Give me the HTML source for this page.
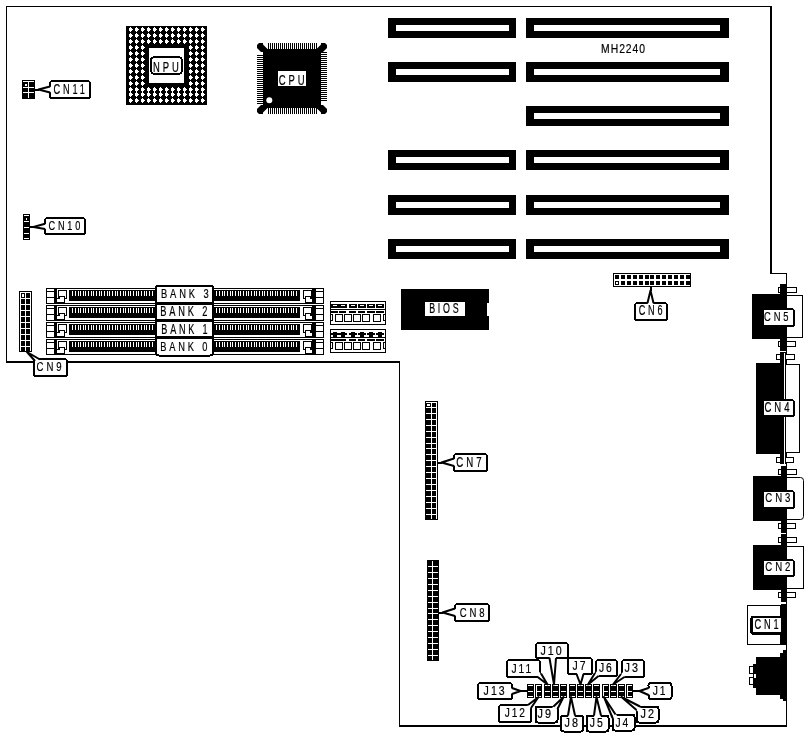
<!DOCTYPE html>
<html><head><meta charset="utf-8"><style>
html,body{margin:0;padding:0;background:#fff;width:807px;height:739px;overflow:hidden}
svg{display:block;will-change:transform}
text{font-family:"Liberation Sans",sans-serif;fill:#000;stroke:#000;stroke-width:0.2px}
</style></head><body>
<svg width="807" height="739" viewBox="0 0 807 739" shape-rendering="crispEdges">
<rect width="807" height="739" fill="#fff"/>
<rect x="6" y="6" width="766" height="1" fill="#000"/>
<rect x="6" y="6" width="1" height="357" fill="#000"/>
<rect x="770" y="6" width="2" height="268" fill="#000"/>
<rect x="770" y="273" width="17" height="1" fill="#000"/>
<rect x="786" y="273" width="1" height="454" fill="#000"/>
<rect x="399" y="725" width="388" height="2" fill="#000"/>
<rect x="399" y="361" width="1" height="366" fill="#000"/>
<rect x="6" y="361" width="394" height="2" fill="#000"/>
<rect x="388" y="18" width="128" height="20" fill="#000"/>
<rect x="396" y="25" width="113" height="6" fill="#fff"/>
<rect x="526" y="18" width="203" height="20" fill="#000"/>
<rect x="534" y="25" width="186" height="6" fill="#fff"/>
<rect x="388" y="62" width="128" height="20" fill="#000"/>
<rect x="396" y="69" width="113" height="6" fill="#fff"/>
<rect x="526" y="62" width="203" height="20" fill="#000"/>
<rect x="534" y="69" width="186" height="6" fill="#fff"/>
<rect x="526" y="106" width="203" height="20" fill="#000"/>
<rect x="534" y="113" width="186" height="6" fill="#fff"/>
<rect x="388" y="150" width="128" height="20" fill="#000"/>
<rect x="396" y="157" width="113" height="6" fill="#fff"/>
<rect x="526" y="150" width="203" height="20" fill="#000"/>
<rect x="534" y="157" width="186" height="6" fill="#fff"/>
<rect x="388" y="195" width="128" height="20" fill="#000"/>
<rect x="396" y="202" width="113" height="6" fill="#fff"/>
<rect x="526" y="195" width="203" height="20" fill="#000"/>
<rect x="534" y="202" width="186" height="6" fill="#fff"/>
<rect x="388" y="239" width="128" height="20" fill="#000"/>
<rect x="396" y="246" width="113" height="6" fill="#fff"/>
<rect x="526" y="239" width="203" height="20" fill="#000"/>
<rect x="534" y="246" width="186" height="6" fill="#fff"/>
<text transform="matrix(0.7981,0,0,0.9644,601.10,52.68)" font-size="13" letter-spacing="1.2">MH2240</text>
<rect x="126" y="26" width="81" height="79" fill="#000"/>
<rect x="129" y="28" width="3" height="3" fill="#fff"/>
<rect x="130" y="27" width="1" height="5" fill="#fff"/>
<rect x="132" y="29" width="1" height="1" fill="#fff"/>
<rect x="135" y="28" width="3" height="3" fill="#fff"/>
<rect x="136" y="27" width="1" height="5" fill="#fff"/>
<rect x="138" y="29" width="1" height="1" fill="#fff"/>
<rect x="141" y="28" width="3" height="3" fill="#fff"/>
<rect x="142" y="27" width="1" height="5" fill="#fff"/>
<rect x="144" y="29" width="1" height="1" fill="#fff"/>
<rect x="147" y="28" width="3" height="3" fill="#fff"/>
<rect x="148" y="27" width="1" height="5" fill="#fff"/>
<rect x="150" y="29" width="1" height="1" fill="#fff"/>
<rect x="153" y="28" width="3" height="3" fill="#fff"/>
<rect x="154" y="27" width="1" height="5" fill="#fff"/>
<rect x="156" y="29" width="1" height="1" fill="#fff"/>
<rect x="159" y="28" width="3" height="3" fill="#fff"/>
<rect x="160" y="27" width="1" height="5" fill="#fff"/>
<rect x="162" y="29" width="1" height="1" fill="#fff"/>
<rect x="165" y="28" width="3" height="3" fill="#fff"/>
<rect x="166" y="27" width="1" height="5" fill="#fff"/>
<rect x="168" y="29" width="1" height="1" fill="#fff"/>
<rect x="171" y="28" width="3" height="3" fill="#fff"/>
<rect x="172" y="27" width="1" height="5" fill="#fff"/>
<rect x="174" y="29" width="1" height="1" fill="#fff"/>
<rect x="177" y="28" width="3" height="3" fill="#fff"/>
<rect x="178" y="27" width="1" height="5" fill="#fff"/>
<rect x="180" y="29" width="1" height="1" fill="#fff"/>
<rect x="183" y="28" width="3" height="3" fill="#fff"/>
<rect x="184" y="27" width="1" height="5" fill="#fff"/>
<rect x="186" y="29" width="1" height="1" fill="#fff"/>
<rect x="189" y="28" width="3" height="3" fill="#fff"/>
<rect x="190" y="27" width="1" height="5" fill="#fff"/>
<rect x="192" y="29" width="1" height="1" fill="#fff"/>
<rect x="195" y="28" width="3" height="3" fill="#fff"/>
<rect x="196" y="27" width="1" height="5" fill="#fff"/>
<rect x="198" y="29" width="1" height="1" fill="#fff"/>
<rect x="201" y="28" width="3" height="3" fill="#fff"/>
<rect x="202" y="27" width="1" height="5" fill="#fff"/>
<rect x="204" y="29" width="1" height="1" fill="#fff"/>
<rect x="129" y="34" width="3" height="3" fill="#fff"/>
<rect x="130" y="33" width="1" height="5" fill="#fff"/>
<rect x="132" y="35" width="1" height="1" fill="#fff"/>
<rect x="135" y="34" width="3" height="3" fill="#fff"/>
<rect x="136" y="33" width="1" height="5" fill="#fff"/>
<rect x="138" y="35" width="1" height="1" fill="#fff"/>
<rect x="141" y="34" width="3" height="3" fill="#fff"/>
<rect x="142" y="33" width="1" height="5" fill="#fff"/>
<rect x="144" y="35" width="1" height="1" fill="#fff"/>
<rect x="147" y="34" width="3" height="3" fill="#fff"/>
<rect x="148" y="33" width="1" height="5" fill="#fff"/>
<rect x="150" y="35" width="1" height="1" fill="#fff"/>
<rect x="153" y="34" width="3" height="3" fill="#fff"/>
<rect x="154" y="33" width="1" height="5" fill="#fff"/>
<rect x="156" y="35" width="1" height="1" fill="#fff"/>
<rect x="159" y="34" width="3" height="3" fill="#fff"/>
<rect x="160" y="33" width="1" height="5" fill="#fff"/>
<rect x="162" y="35" width="1" height="1" fill="#fff"/>
<rect x="165" y="34" width="3" height="3" fill="#fff"/>
<rect x="166" y="33" width="1" height="5" fill="#fff"/>
<rect x="168" y="35" width="1" height="1" fill="#fff"/>
<rect x="171" y="34" width="3" height="3" fill="#fff"/>
<rect x="172" y="33" width="1" height="5" fill="#fff"/>
<rect x="174" y="35" width="1" height="1" fill="#fff"/>
<rect x="177" y="34" width="3" height="3" fill="#fff"/>
<rect x="178" y="33" width="1" height="5" fill="#fff"/>
<rect x="180" y="35" width="1" height="1" fill="#fff"/>
<rect x="183" y="34" width="3" height="3" fill="#fff"/>
<rect x="184" y="33" width="1" height="5" fill="#fff"/>
<rect x="186" y="35" width="1" height="1" fill="#fff"/>
<rect x="189" y="34" width="3" height="3" fill="#fff"/>
<rect x="190" y="33" width="1" height="5" fill="#fff"/>
<rect x="192" y="35" width="1" height="1" fill="#fff"/>
<rect x="195" y="34" width="3" height="3" fill="#fff"/>
<rect x="196" y="33" width="1" height="5" fill="#fff"/>
<rect x="198" y="35" width="1" height="1" fill="#fff"/>
<rect x="201" y="34" width="3" height="3" fill="#fff"/>
<rect x="202" y="33" width="1" height="5" fill="#fff"/>
<rect x="204" y="35" width="1" height="1" fill="#fff"/>
<rect x="129" y="40" width="3" height="3" fill="#fff"/>
<rect x="130" y="39" width="1" height="5" fill="#fff"/>
<rect x="132" y="41" width="1" height="1" fill="#fff"/>
<rect x="135" y="40" width="3" height="3" fill="#fff"/>
<rect x="136" y="39" width="1" height="5" fill="#fff"/>
<rect x="138" y="41" width="1" height="1" fill="#fff"/>
<rect x="141" y="40" width="3" height="3" fill="#fff"/>
<rect x="142" y="39" width="1" height="5" fill="#fff"/>
<rect x="144" y="41" width="1" height="1" fill="#fff"/>
<rect x="147" y="40" width="3" height="3" fill="#fff"/>
<rect x="148" y="39" width="1" height="5" fill="#fff"/>
<rect x="150" y="41" width="1" height="1" fill="#fff"/>
<rect x="153" y="40" width="3" height="3" fill="#fff"/>
<rect x="154" y="39" width="1" height="5" fill="#fff"/>
<rect x="156" y="41" width="1" height="1" fill="#fff"/>
<rect x="159" y="40" width="3" height="3" fill="#fff"/>
<rect x="160" y="39" width="1" height="5" fill="#fff"/>
<rect x="162" y="41" width="1" height="1" fill="#fff"/>
<rect x="165" y="40" width="3" height="3" fill="#fff"/>
<rect x="166" y="39" width="1" height="5" fill="#fff"/>
<rect x="168" y="41" width="1" height="1" fill="#fff"/>
<rect x="171" y="40" width="3" height="3" fill="#fff"/>
<rect x="172" y="39" width="1" height="5" fill="#fff"/>
<rect x="174" y="41" width="1" height="1" fill="#fff"/>
<rect x="177" y="40" width="3" height="3" fill="#fff"/>
<rect x="178" y="39" width="1" height="5" fill="#fff"/>
<rect x="180" y="41" width="1" height="1" fill="#fff"/>
<rect x="183" y="40" width="3" height="3" fill="#fff"/>
<rect x="184" y="39" width="1" height="5" fill="#fff"/>
<rect x="186" y="41" width="1" height="1" fill="#fff"/>
<rect x="189" y="40" width="3" height="3" fill="#fff"/>
<rect x="190" y="39" width="1" height="5" fill="#fff"/>
<rect x="192" y="41" width="1" height="1" fill="#fff"/>
<rect x="195" y="40" width="3" height="3" fill="#fff"/>
<rect x="196" y="39" width="1" height="5" fill="#fff"/>
<rect x="198" y="41" width="1" height="1" fill="#fff"/>
<rect x="201" y="40" width="3" height="3" fill="#fff"/>
<rect x="202" y="39" width="1" height="5" fill="#fff"/>
<rect x="204" y="41" width="1" height="1" fill="#fff"/>
<rect x="129" y="46" width="3" height="3" fill="#fff"/>
<rect x="130" y="45" width="1" height="5" fill="#fff"/>
<rect x="132" y="47" width="1" height="1" fill="#fff"/>
<rect x="135" y="46" width="3" height="3" fill="#fff"/>
<rect x="136" y="45" width="1" height="5" fill="#fff"/>
<rect x="138" y="47" width="1" height="1" fill="#fff"/>
<rect x="141" y="46" width="3" height="3" fill="#fff"/>
<rect x="142" y="45" width="1" height="5" fill="#fff"/>
<rect x="144" y="47" width="1" height="1" fill="#fff"/>
<rect x="189" y="46" width="3" height="3" fill="#fff"/>
<rect x="190" y="45" width="1" height="5" fill="#fff"/>
<rect x="192" y="47" width="1" height="1" fill="#fff"/>
<rect x="195" y="46" width="3" height="3" fill="#fff"/>
<rect x="196" y="45" width="1" height="5" fill="#fff"/>
<rect x="198" y="47" width="1" height="1" fill="#fff"/>
<rect x="201" y="46" width="3" height="3" fill="#fff"/>
<rect x="202" y="45" width="1" height="5" fill="#fff"/>
<rect x="204" y="47" width="1" height="1" fill="#fff"/>
<rect x="129" y="52" width="3" height="3" fill="#fff"/>
<rect x="130" y="51" width="1" height="5" fill="#fff"/>
<rect x="132" y="53" width="1" height="1" fill="#fff"/>
<rect x="135" y="52" width="3" height="3" fill="#fff"/>
<rect x="136" y="51" width="1" height="5" fill="#fff"/>
<rect x="138" y="53" width="1" height="1" fill="#fff"/>
<rect x="141" y="52" width="3" height="3" fill="#fff"/>
<rect x="142" y="51" width="1" height="5" fill="#fff"/>
<rect x="144" y="53" width="1" height="1" fill="#fff"/>
<rect x="189" y="52" width="3" height="3" fill="#fff"/>
<rect x="190" y="51" width="1" height="5" fill="#fff"/>
<rect x="192" y="53" width="1" height="1" fill="#fff"/>
<rect x="195" y="52" width="3" height="3" fill="#fff"/>
<rect x="196" y="51" width="1" height="5" fill="#fff"/>
<rect x="198" y="53" width="1" height="1" fill="#fff"/>
<rect x="201" y="52" width="3" height="3" fill="#fff"/>
<rect x="202" y="51" width="1" height="5" fill="#fff"/>
<rect x="204" y="53" width="1" height="1" fill="#fff"/>
<rect x="129" y="58" width="3" height="3" fill="#fff"/>
<rect x="130" y="57" width="1" height="5" fill="#fff"/>
<rect x="132" y="59" width="1" height="1" fill="#fff"/>
<rect x="135" y="58" width="3" height="3" fill="#fff"/>
<rect x="136" y="57" width="1" height="5" fill="#fff"/>
<rect x="138" y="59" width="1" height="1" fill="#fff"/>
<rect x="141" y="58" width="3" height="3" fill="#fff"/>
<rect x="142" y="57" width="1" height="5" fill="#fff"/>
<rect x="144" y="59" width="1" height="1" fill="#fff"/>
<rect x="189" y="58" width="3" height="3" fill="#fff"/>
<rect x="190" y="57" width="1" height="5" fill="#fff"/>
<rect x="192" y="59" width="1" height="1" fill="#fff"/>
<rect x="195" y="58" width="3" height="3" fill="#fff"/>
<rect x="196" y="57" width="1" height="5" fill="#fff"/>
<rect x="198" y="59" width="1" height="1" fill="#fff"/>
<rect x="201" y="58" width="3" height="3" fill="#fff"/>
<rect x="202" y="57" width="1" height="5" fill="#fff"/>
<rect x="204" y="59" width="1" height="1" fill="#fff"/>
<rect x="129" y="64" width="3" height="3" fill="#fff"/>
<rect x="130" y="63" width="1" height="5" fill="#fff"/>
<rect x="132" y="65" width="1" height="1" fill="#fff"/>
<rect x="135" y="64" width="3" height="3" fill="#fff"/>
<rect x="136" y="63" width="1" height="5" fill="#fff"/>
<rect x="138" y="65" width="1" height="1" fill="#fff"/>
<rect x="141" y="64" width="3" height="3" fill="#fff"/>
<rect x="142" y="63" width="1" height="5" fill="#fff"/>
<rect x="144" y="65" width="1" height="1" fill="#fff"/>
<rect x="189" y="64" width="3" height="3" fill="#fff"/>
<rect x="190" y="63" width="1" height="5" fill="#fff"/>
<rect x="192" y="65" width="1" height="1" fill="#fff"/>
<rect x="195" y="64" width="3" height="3" fill="#fff"/>
<rect x="196" y="63" width="1" height="5" fill="#fff"/>
<rect x="198" y="65" width="1" height="1" fill="#fff"/>
<rect x="201" y="64" width="3" height="3" fill="#fff"/>
<rect x="202" y="63" width="1" height="5" fill="#fff"/>
<rect x="204" y="65" width="1" height="1" fill="#fff"/>
<rect x="129" y="70" width="3" height="3" fill="#fff"/>
<rect x="130" y="69" width="1" height="5" fill="#fff"/>
<rect x="132" y="71" width="1" height="1" fill="#fff"/>
<rect x="135" y="70" width="3" height="3" fill="#fff"/>
<rect x="136" y="69" width="1" height="5" fill="#fff"/>
<rect x="138" y="71" width="1" height="1" fill="#fff"/>
<rect x="141" y="70" width="3" height="3" fill="#fff"/>
<rect x="142" y="69" width="1" height="5" fill="#fff"/>
<rect x="144" y="71" width="1" height="1" fill="#fff"/>
<rect x="189" y="70" width="3" height="3" fill="#fff"/>
<rect x="190" y="69" width="1" height="5" fill="#fff"/>
<rect x="192" y="71" width="1" height="1" fill="#fff"/>
<rect x="195" y="70" width="3" height="3" fill="#fff"/>
<rect x="196" y="69" width="1" height="5" fill="#fff"/>
<rect x="198" y="71" width="1" height="1" fill="#fff"/>
<rect x="201" y="70" width="3" height="3" fill="#fff"/>
<rect x="202" y="69" width="1" height="5" fill="#fff"/>
<rect x="204" y="71" width="1" height="1" fill="#fff"/>
<rect x="129" y="76" width="3" height="3" fill="#fff"/>
<rect x="130" y="75" width="1" height="5" fill="#fff"/>
<rect x="132" y="77" width="1" height="1" fill="#fff"/>
<rect x="135" y="76" width="3" height="3" fill="#fff"/>
<rect x="136" y="75" width="1" height="5" fill="#fff"/>
<rect x="138" y="77" width="1" height="1" fill="#fff"/>
<rect x="141" y="76" width="3" height="3" fill="#fff"/>
<rect x="142" y="75" width="1" height="5" fill="#fff"/>
<rect x="144" y="77" width="1" height="1" fill="#fff"/>
<rect x="189" y="76" width="3" height="3" fill="#fff"/>
<rect x="190" y="75" width="1" height="5" fill="#fff"/>
<rect x="192" y="77" width="1" height="1" fill="#fff"/>
<rect x="195" y="76" width="3" height="3" fill="#fff"/>
<rect x="196" y="75" width="1" height="5" fill="#fff"/>
<rect x="198" y="77" width="1" height="1" fill="#fff"/>
<rect x="201" y="76" width="3" height="3" fill="#fff"/>
<rect x="202" y="75" width="1" height="5" fill="#fff"/>
<rect x="204" y="77" width="1" height="1" fill="#fff"/>
<rect x="129" y="82" width="3" height="3" fill="#fff"/>
<rect x="130" y="81" width="1" height="5" fill="#fff"/>
<rect x="132" y="83" width="1" height="1" fill="#fff"/>
<rect x="135" y="82" width="3" height="3" fill="#fff"/>
<rect x="136" y="81" width="1" height="5" fill="#fff"/>
<rect x="138" y="83" width="1" height="1" fill="#fff"/>
<rect x="141" y="82" width="3" height="3" fill="#fff"/>
<rect x="142" y="81" width="1" height="5" fill="#fff"/>
<rect x="144" y="83" width="1" height="1" fill="#fff"/>
<rect x="189" y="82" width="3" height="3" fill="#fff"/>
<rect x="190" y="81" width="1" height="5" fill="#fff"/>
<rect x="192" y="83" width="1" height="1" fill="#fff"/>
<rect x="195" y="82" width="3" height="3" fill="#fff"/>
<rect x="196" y="81" width="1" height="5" fill="#fff"/>
<rect x="198" y="83" width="1" height="1" fill="#fff"/>
<rect x="201" y="82" width="3" height="3" fill="#fff"/>
<rect x="202" y="81" width="1" height="5" fill="#fff"/>
<rect x="204" y="83" width="1" height="1" fill="#fff"/>
<rect x="129" y="88" width="3" height="3" fill="#fff"/>
<rect x="130" y="87" width="1" height="5" fill="#fff"/>
<rect x="132" y="89" width="1" height="1" fill="#fff"/>
<rect x="135" y="88" width="3" height="3" fill="#fff"/>
<rect x="136" y="87" width="1" height="5" fill="#fff"/>
<rect x="138" y="89" width="1" height="1" fill="#fff"/>
<rect x="141" y="88" width="3" height="3" fill="#fff"/>
<rect x="142" y="87" width="1" height="5" fill="#fff"/>
<rect x="144" y="89" width="1" height="1" fill="#fff"/>
<rect x="147" y="88" width="3" height="3" fill="#fff"/>
<rect x="148" y="87" width="1" height="5" fill="#fff"/>
<rect x="150" y="89" width="1" height="1" fill="#fff"/>
<rect x="153" y="88" width="3" height="3" fill="#fff"/>
<rect x="154" y="87" width="1" height="5" fill="#fff"/>
<rect x="156" y="89" width="1" height="1" fill="#fff"/>
<rect x="159" y="88" width="3" height="3" fill="#fff"/>
<rect x="160" y="87" width="1" height="5" fill="#fff"/>
<rect x="162" y="89" width="1" height="1" fill="#fff"/>
<rect x="165" y="88" width="3" height="3" fill="#fff"/>
<rect x="166" y="87" width="1" height="5" fill="#fff"/>
<rect x="168" y="89" width="1" height="1" fill="#fff"/>
<rect x="171" y="88" width="3" height="3" fill="#fff"/>
<rect x="172" y="87" width="1" height="5" fill="#fff"/>
<rect x="174" y="89" width="1" height="1" fill="#fff"/>
<rect x="177" y="88" width="3" height="3" fill="#fff"/>
<rect x="178" y="87" width="1" height="5" fill="#fff"/>
<rect x="180" y="89" width="1" height="1" fill="#fff"/>
<rect x="183" y="88" width="3" height="3" fill="#fff"/>
<rect x="184" y="87" width="1" height="5" fill="#fff"/>
<rect x="186" y="89" width="1" height="1" fill="#fff"/>
<rect x="189" y="88" width="3" height="3" fill="#fff"/>
<rect x="190" y="87" width="1" height="5" fill="#fff"/>
<rect x="192" y="89" width="1" height="1" fill="#fff"/>
<rect x="195" y="88" width="3" height="3" fill="#fff"/>
<rect x="196" y="87" width="1" height="5" fill="#fff"/>
<rect x="198" y="89" width="1" height="1" fill="#fff"/>
<rect x="201" y="88" width="3" height="3" fill="#fff"/>
<rect x="202" y="87" width="1" height="5" fill="#fff"/>
<rect x="204" y="89" width="1" height="1" fill="#fff"/>
<rect x="129" y="93" width="3" height="3" fill="#fff"/>
<rect x="130" y="92" width="1" height="5" fill="#fff"/>
<rect x="132" y="94" width="1" height="1" fill="#fff"/>
<rect x="135" y="93" width="3" height="3" fill="#fff"/>
<rect x="136" y="92" width="1" height="5" fill="#fff"/>
<rect x="138" y="94" width="1" height="1" fill="#fff"/>
<rect x="141" y="93" width="3" height="3" fill="#fff"/>
<rect x="142" y="92" width="1" height="5" fill="#fff"/>
<rect x="144" y="94" width="1" height="1" fill="#fff"/>
<rect x="147" y="93" width="3" height="3" fill="#fff"/>
<rect x="148" y="92" width="1" height="5" fill="#fff"/>
<rect x="150" y="94" width="1" height="1" fill="#fff"/>
<rect x="153" y="93" width="3" height="3" fill="#fff"/>
<rect x="154" y="92" width="1" height="5" fill="#fff"/>
<rect x="156" y="94" width="1" height="1" fill="#fff"/>
<rect x="159" y="93" width="3" height="3" fill="#fff"/>
<rect x="160" y="92" width="1" height="5" fill="#fff"/>
<rect x="162" y="94" width="1" height="1" fill="#fff"/>
<rect x="165" y="93" width="3" height="3" fill="#fff"/>
<rect x="166" y="92" width="1" height="5" fill="#fff"/>
<rect x="168" y="94" width="1" height="1" fill="#fff"/>
<rect x="171" y="93" width="3" height="3" fill="#fff"/>
<rect x="172" y="92" width="1" height="5" fill="#fff"/>
<rect x="174" y="94" width="1" height="1" fill="#fff"/>
<rect x="177" y="93" width="3" height="3" fill="#fff"/>
<rect x="178" y="92" width="1" height="5" fill="#fff"/>
<rect x="180" y="94" width="1" height="1" fill="#fff"/>
<rect x="183" y="93" width="3" height="3" fill="#fff"/>
<rect x="184" y="92" width="1" height="5" fill="#fff"/>
<rect x="186" y="94" width="1" height="1" fill="#fff"/>
<rect x="189" y="93" width="3" height="3" fill="#fff"/>
<rect x="190" y="92" width="1" height="5" fill="#fff"/>
<rect x="192" y="94" width="1" height="1" fill="#fff"/>
<rect x="195" y="93" width="3" height="3" fill="#fff"/>
<rect x="196" y="92" width="1" height="5" fill="#fff"/>
<rect x="198" y="94" width="1" height="1" fill="#fff"/>
<rect x="201" y="93" width="3" height="3" fill="#fff"/>
<rect x="202" y="92" width="1" height="5" fill="#fff"/>
<rect x="204" y="94" width="1" height="1" fill="#fff"/>
<rect x="129" y="99" width="3" height="3" fill="#fff"/>
<rect x="130" y="98" width="1" height="5" fill="#fff"/>
<rect x="132" y="100" width="1" height="1" fill="#fff"/>
<rect x="135" y="99" width="3" height="3" fill="#fff"/>
<rect x="136" y="98" width="1" height="5" fill="#fff"/>
<rect x="138" y="100" width="1" height="1" fill="#fff"/>
<rect x="141" y="99" width="3" height="3" fill="#fff"/>
<rect x="142" y="98" width="1" height="5" fill="#fff"/>
<rect x="144" y="100" width="1" height="1" fill="#fff"/>
<rect x="147" y="99" width="3" height="3" fill="#fff"/>
<rect x="148" y="98" width="1" height="5" fill="#fff"/>
<rect x="150" y="100" width="1" height="1" fill="#fff"/>
<rect x="153" y="99" width="3" height="3" fill="#fff"/>
<rect x="154" y="98" width="1" height="5" fill="#fff"/>
<rect x="156" y="100" width="1" height="1" fill="#fff"/>
<rect x="159" y="99" width="3" height="3" fill="#fff"/>
<rect x="160" y="98" width="1" height="5" fill="#fff"/>
<rect x="162" y="100" width="1" height="1" fill="#fff"/>
<rect x="165" y="99" width="3" height="3" fill="#fff"/>
<rect x="166" y="98" width="1" height="5" fill="#fff"/>
<rect x="168" y="100" width="1" height="1" fill="#fff"/>
<rect x="171" y="99" width="3" height="3" fill="#fff"/>
<rect x="172" y="98" width="1" height="5" fill="#fff"/>
<rect x="174" y="100" width="1" height="1" fill="#fff"/>
<rect x="177" y="99" width="3" height="3" fill="#fff"/>
<rect x="178" y="98" width="1" height="5" fill="#fff"/>
<rect x="180" y="100" width="1" height="1" fill="#fff"/>
<rect x="183" y="99" width="3" height="3" fill="#fff"/>
<rect x="184" y="98" width="1" height="5" fill="#fff"/>
<rect x="186" y="100" width="1" height="1" fill="#fff"/>
<rect x="189" y="99" width="3" height="3" fill="#fff"/>
<rect x="190" y="98" width="1" height="5" fill="#fff"/>
<rect x="192" y="100" width="1" height="1" fill="#fff"/>
<rect x="195" y="99" width="3" height="3" fill="#fff"/>
<rect x="196" y="98" width="1" height="5" fill="#fff"/>
<rect x="198" y="100" width="1" height="1" fill="#fff"/>
<rect x="201" y="99" width="3" height="3" fill="#fff"/>
<rect x="202" y="98" width="1" height="5" fill="#fff"/>
<rect x="204" y="100" width="1" height="1" fill="#fff"/>
<rect x="149" y="48" width="35" height="35" fill="#fff"/>
<rect x="151" y="57" width="31" height="17" rx="3.5" fill="#fff" stroke="#000" stroke-width="2"/>
<text transform="matrix(0.7251,0,0,1.1288,153.08,71.96)" font-size="13" letter-spacing="4">NPU</text>
<rect x="263" y="49" width="58" height="59" fill="#000"/>
<rect x="268" y="43" width="1" height="6" fill="#000"/>
<rect x="268" y="108" width="1" height="6" fill="#000"/>
<rect x="270" y="43" width="1" height="6" fill="#000"/>
<rect x="270" y="108" width="1" height="6" fill="#000"/>
<rect x="272" y="43" width="1" height="6" fill="#000"/>
<rect x="272" y="108" width="1" height="6" fill="#000"/>
<rect x="274" y="43" width="1" height="6" fill="#000"/>
<rect x="274" y="108" width="1" height="6" fill="#000"/>
<rect x="276" y="43" width="1" height="6" fill="#000"/>
<rect x="276" y="108" width="1" height="6" fill="#000"/>
<rect x="278" y="43" width="1" height="6" fill="#000"/>
<rect x="278" y="108" width="1" height="6" fill="#000"/>
<rect x="280" y="43" width="1" height="6" fill="#000"/>
<rect x="280" y="108" width="1" height="6" fill="#000"/>
<rect x="282" y="43" width="1" height="6" fill="#000"/>
<rect x="282" y="108" width="1" height="6" fill="#000"/>
<rect x="284" y="43" width="1" height="6" fill="#000"/>
<rect x="284" y="108" width="1" height="6" fill="#000"/>
<rect x="286" y="43" width="1" height="6" fill="#000"/>
<rect x="286" y="108" width="1" height="6" fill="#000"/>
<rect x="288" y="43" width="1" height="6" fill="#000"/>
<rect x="288" y="108" width="1" height="6" fill="#000"/>
<rect x="290" y="43" width="1" height="6" fill="#000"/>
<rect x="290" y="108" width="1" height="6" fill="#000"/>
<rect x="292" y="43" width="1" height="6" fill="#000"/>
<rect x="292" y="108" width="1" height="6" fill="#000"/>
<rect x="294" y="43" width="1" height="6" fill="#000"/>
<rect x="294" y="108" width="1" height="6" fill="#000"/>
<rect x="296" y="43" width="1" height="6" fill="#000"/>
<rect x="296" y="108" width="1" height="6" fill="#000"/>
<rect x="298" y="43" width="1" height="6" fill="#000"/>
<rect x="298" y="108" width="1" height="6" fill="#000"/>
<rect x="300" y="43" width="1" height="6" fill="#000"/>
<rect x="300" y="108" width="1" height="6" fill="#000"/>
<rect x="302" y="43" width="1" height="6" fill="#000"/>
<rect x="302" y="108" width="1" height="6" fill="#000"/>
<rect x="304" y="43" width="1" height="6" fill="#000"/>
<rect x="304" y="108" width="1" height="6" fill="#000"/>
<rect x="306" y="43" width="1" height="6" fill="#000"/>
<rect x="306" y="108" width="1" height="6" fill="#000"/>
<rect x="308" y="43" width="1" height="6" fill="#000"/>
<rect x="308" y="108" width="1" height="6" fill="#000"/>
<rect x="310" y="43" width="1" height="6" fill="#000"/>
<rect x="310" y="108" width="1" height="6" fill="#000"/>
<rect x="312" y="43" width="1" height="6" fill="#000"/>
<rect x="312" y="108" width="1" height="6" fill="#000"/>
<rect x="314" y="43" width="1" height="6" fill="#000"/>
<rect x="314" y="108" width="1" height="6" fill="#000"/>
<rect x="316" y="43" width="1" height="6" fill="#000"/>
<rect x="316" y="108" width="1" height="6" fill="#000"/>
<rect x="257" y="55" width="6" height="1" fill="#000"/>
<rect x="321" y="52" width="6" height="1" fill="#000"/>
<rect x="257" y="57" width="6" height="1" fill="#000"/>
<rect x="321" y="54" width="6" height="1" fill="#000"/>
<rect x="257" y="59" width="6" height="1" fill="#000"/>
<rect x="321" y="56" width="6" height="1" fill="#000"/>
<rect x="257" y="61" width="6" height="1" fill="#000"/>
<rect x="321" y="58" width="6" height="1" fill="#000"/>
<rect x="257" y="63" width="6" height="1" fill="#000"/>
<rect x="321" y="60" width="6" height="1" fill="#000"/>
<rect x="257" y="65" width="6" height="1" fill="#000"/>
<rect x="321" y="62" width="6" height="1" fill="#000"/>
<rect x="257" y="67" width="6" height="1" fill="#000"/>
<rect x="321" y="64" width="6" height="1" fill="#000"/>
<rect x="257" y="69" width="6" height="1" fill="#000"/>
<rect x="321" y="66" width="6" height="1" fill="#000"/>
<rect x="257" y="71" width="6" height="1" fill="#000"/>
<rect x="321" y="68" width="6" height="1" fill="#000"/>
<rect x="257" y="73" width="6" height="1" fill="#000"/>
<rect x="321" y="70" width="6" height="1" fill="#000"/>
<rect x="257" y="75" width="6" height="1" fill="#000"/>
<rect x="321" y="72" width="6" height="1" fill="#000"/>
<rect x="257" y="77" width="6" height="1" fill="#000"/>
<rect x="321" y="74" width="6" height="1" fill="#000"/>
<rect x="257" y="79" width="6" height="1" fill="#000"/>
<rect x="321" y="76" width="6" height="1" fill="#000"/>
<rect x="257" y="81" width="6" height="1" fill="#000"/>
<rect x="321" y="78" width="6" height="1" fill="#000"/>
<rect x="257" y="83" width="6" height="1" fill="#000"/>
<rect x="321" y="80" width="6" height="1" fill="#000"/>
<rect x="257" y="85" width="6" height="1" fill="#000"/>
<rect x="321" y="82" width="6" height="1" fill="#000"/>
<rect x="257" y="87" width="6" height="1" fill="#000"/>
<rect x="321" y="84" width="6" height="1" fill="#000"/>
<rect x="257" y="89" width="6" height="1" fill="#000"/>
<rect x="321" y="86" width="6" height="1" fill="#000"/>
<rect x="257" y="91" width="6" height="1" fill="#000"/>
<rect x="321" y="88" width="6" height="1" fill="#000"/>
<rect x="257" y="93" width="6" height="1" fill="#000"/>
<rect x="321" y="90" width="6" height="1" fill="#000"/>
<rect x="257" y="95" width="6" height="1" fill="#000"/>
<rect x="321" y="92" width="6" height="1" fill="#000"/>
<rect x="257" y="97" width="6" height="1" fill="#000"/>
<rect x="321" y="94" width="6" height="1" fill="#000"/>
<rect x="257" y="99" width="6" height="1" fill="#000"/>
<rect x="321" y="96" width="6" height="1" fill="#000"/>
<rect x="257" y="101" width="6" height="1" fill="#000"/>
<rect x="321" y="98" width="6" height="1" fill="#000"/>
<rect x="257" y="103" width="6" height="1" fill="#000"/>
<rect x="321" y="100" width="6" height="1" fill="#000"/>
<path d="M259,43 L263,43 L263,44.5 L267.5,49 L263,49 L263,52 L261,52 L257,48 L257,45 Z" fill="#000" shape-rendering="geometricPrecision"/>
<path d="M325,43 L321,43 L321,44.5 L316.5,49 L321,49 L321,52 L323,52 L327,48 L327,45 Z" fill="#000" shape-rendering="geometricPrecision"/>
<path d="M259,114 L263,114 L263,112.5 L267.5,108 L263,108 L263,105 L261,105 L257,109 L257,112 Z" fill="#000" shape-rendering="geometricPrecision"/>
<path d="M325,114 L321,114 L321,112.5 L316.5,108 L321,108 L321,105 L323,105 L327,109 L327,112 Z" fill="#000" shape-rendering="geometricPrecision"/>
<circle cx="269.3" cy="100.3" r="3" fill="#fff" shape-rendering="geometricPrecision"/>
<rect x="278" y="71" width="28" height="15" fill="#fff"/>
<text transform="matrix(0.7292,0,0,1.0595,278.64,84.57)" font-size="13" letter-spacing="4">CPU</text>
<rect x="22" y="80" width="13" height="19" fill="#000"/>
<rect x="23" y="81" width="11" height="1" fill="#fff"/>
<rect x="23" y="87" width="11" height="1" fill="#fff"/>
<rect x="23" y="92" width="11" height="1" fill="#fff"/>
<rect x="28" y="81" width="1" height="17" fill="#fff"/>
<rect x="24.5" y="83.5" width="3" height="3" fill="#fff" stroke="#000" stroke-width="1"/>
<rect x="50" y="81" width="40" height="17" rx="2.5" fill="#fff" stroke="#000" stroke-width="2"/>
<text transform="matrix(0.7047,0,0,1.0595,53.56,93.67)" font-size="13" letter-spacing="4">CN11</text>
<rect x="35" y="88.5" width="4" height="2" fill="#000"/>
<path d="M52,86.5 L38.5,89.5 L52,92.5 Z" fill="#fff" shape-rendering="geometricPrecision"/>
<path d="M50,86.5 L38.5,89.5 L50,92.5" fill="none" stroke="#000" stroke-width="2" stroke-linejoin="round" shape-rendering="geometricPrecision"/>
<rect x="23" y="214" width="7" height="26" fill="#000"/>
<rect x="24" y="215" width="5" height="1" fill="#fff"/>
<rect x="24" y="221" width="5" height="1" fill="#fff"/>
<rect x="24" y="227" width="5" height="1" fill="#fff"/>
<rect x="24" y="233" width="5" height="1" fill="#fff"/>
<rect x="24" y="238" width="5" height="1" fill="#fff"/>
<rect x="25.5" y="217.5" width="2" height="3" fill="#fff" stroke="#000" stroke-width="1"/>
<rect x="45" y="218" width="40" height="16" rx="2.5" fill="#fff" stroke="#000" stroke-width="2"/>
<text transform="matrix(0.7048,0,0,0.9730,48.46,229.58)" font-size="13" letter-spacing="4">CN10</text>
<rect x="30" y="226" width="4" height="2" fill="#000"/>
<path d="M47,223.8 L33.5,227 L47,229 Z" fill="#fff" shape-rendering="geometricPrecision"/>
<path d="M45,223.8 L33.5,227 L45,229" fill="none" stroke="#000" stroke-width="2" stroke-linejoin="round" shape-rendering="geometricPrecision"/>
<rect x="46.5" y="288.5" width="277" height="15" fill="#fff" stroke="#000" stroke-width="1"/>
<rect x="46" y="291" width="8" height="1" fill="#000"/>
<rect x="46" y="297" width="8" height="1" fill="#000"/>
<rect x="54" y="288" width="3" height="16" fill="#000"/>
<path d="M58.5,298.5 V290.5 H66.5 V298.5 H64.5" fill="none" stroke="#000" stroke-width="1" />
<path d="M57,298.5 H59.5 V296.5 H64.5 V302.5 H57" fill="none" stroke="#000" stroke-width="1" />
<rect x="69" y="290" width="86" height="11" fill="#000"/>
<rect x="72" y="291" width="1" height="5" fill="#fff"/>
<rect x="75" y="291" width="1" height="5" fill="#fff"/>
<rect x="78" y="291" width="1" height="5" fill="#fff"/>
<rect x="80" y="291" width="1" height="5" fill="#fff"/>
<rect x="83" y="291" width="1" height="5" fill="#fff"/>
<rect x="85" y="291" width="1" height="5" fill="#fff"/>
<rect x="88" y="291" width="1" height="5" fill="#fff"/>
<rect x="91" y="291" width="1" height="5" fill="#fff"/>
<rect x="93" y="291" width="1" height="5" fill="#fff"/>
<rect x="96" y="291" width="1" height="5" fill="#fff"/>
<rect x="99" y="291" width="1" height="5" fill="#fff"/>
<rect x="101" y="291" width="1" height="5" fill="#fff"/>
<rect x="104" y="291" width="1" height="5" fill="#fff"/>
<rect x="107" y="291" width="1" height="5" fill="#fff"/>
<rect x="109" y="291" width="1" height="5" fill="#fff"/>
<rect x="112" y="291" width="1" height="5" fill="#fff"/>
<rect x="115" y="291" width="1" height="5" fill="#fff"/>
<rect x="117" y="291" width="1" height="5" fill="#fff"/>
<rect x="120" y="291" width="1" height="5" fill="#fff"/>
<rect x="123" y="291" width="1" height="5" fill="#fff"/>
<rect x="125" y="291" width="1" height="5" fill="#fff"/>
<rect x="128" y="291" width="1" height="5" fill="#fff"/>
<rect x="130" y="291" width="1" height="5" fill="#fff"/>
<rect x="133" y="291" width="1" height="5" fill="#fff"/>
<rect x="136" y="291" width="1" height="5" fill="#fff"/>
<rect x="138" y="291" width="1" height="5" fill="#fff"/>
<rect x="141" y="291" width="1" height="5" fill="#fff"/>
<rect x="144" y="291" width="1" height="5" fill="#fff"/>
<rect x="146" y="291" width="1" height="5" fill="#fff"/>
<rect x="149" y="291" width="1" height="5" fill="#fff"/>
<rect x="152" y="291" width="1" height="5" fill="#fff"/>
<rect x="214" y="290" width="86" height="11" fill="#000"/>
<rect x="216" y="291" width="1" height="5" fill="#fff"/>
<rect x="219" y="291" width="1" height="5" fill="#fff"/>
<rect x="222" y="291" width="1" height="5" fill="#fff"/>
<rect x="224" y="291" width="1" height="5" fill="#fff"/>
<rect x="227" y="291" width="1" height="5" fill="#fff"/>
<rect x="230" y="291" width="1" height="5" fill="#fff"/>
<rect x="232" y="291" width="1" height="5" fill="#fff"/>
<rect x="235" y="291" width="1" height="5" fill="#fff"/>
<rect x="238" y="291" width="1" height="5" fill="#fff"/>
<rect x="240" y="291" width="1" height="5" fill="#fff"/>
<rect x="243" y="291" width="1" height="5" fill="#fff"/>
<rect x="246" y="291" width="1" height="5" fill="#fff"/>
<rect x="248" y="291" width="1" height="5" fill="#fff"/>
<rect x="251" y="291" width="1" height="5" fill="#fff"/>
<rect x="254" y="291" width="1" height="5" fill="#fff"/>
<rect x="256" y="291" width="1" height="5" fill="#fff"/>
<rect x="259" y="291" width="1" height="5" fill="#fff"/>
<rect x="262" y="291" width="1" height="5" fill="#fff"/>
<rect x="264" y="291" width="1" height="5" fill="#fff"/>
<rect x="267" y="291" width="1" height="5" fill="#fff"/>
<rect x="270" y="291" width="1" height="5" fill="#fff"/>
<rect x="272" y="291" width="1" height="5" fill="#fff"/>
<rect x="275" y="291" width="1" height="5" fill="#fff"/>
<rect x="277" y="291" width="1" height="5" fill="#fff"/>
<rect x="280" y="291" width="1" height="5" fill="#fff"/>
<rect x="283" y="291" width="1" height="5" fill="#fff"/>
<rect x="285" y="291" width="1" height="5" fill="#fff"/>
<rect x="288" y="291" width="1" height="5" fill="#fff"/>
<rect x="291" y="291" width="1" height="5" fill="#fff"/>
<rect x="293" y="291" width="1" height="5" fill="#fff"/>
<rect x="296" y="291" width="1" height="5" fill="#fff"/>
<path d="M311.5,298.5 V290.5 H303.5 V298.5 H305.5" fill="none" stroke="#000" stroke-width="1" />
<path d="M313,298.5 H310.5 V296.5 H305.5 V302.5 H313" fill="none" stroke="#000" stroke-width="1" />
<rect x="312" y="288" width="4" height="16" fill="#000"/>
<rect x="316" y="291" width="8" height="1" fill="#000"/>
<rect x="316" y="297" width="8" height="1" fill="#000"/>
<rect x="46.5" y="305.5" width="277" height="15" fill="#fff" stroke="#000" stroke-width="1"/>
<rect x="46" y="308" width="8" height="1" fill="#000"/>
<rect x="46" y="314" width="8" height="1" fill="#000"/>
<rect x="54" y="305" width="3" height="16" fill="#000"/>
<path d="M58.5,315.5 V307.5 H66.5 V315.5 H64.5" fill="none" stroke="#000" stroke-width="1" />
<path d="M57,315.5 H59.5 V313.5 H64.5 V319.5 H57" fill="none" stroke="#000" stroke-width="1" />
<rect x="69" y="307" width="86" height="11" fill="#000"/>
<rect x="72" y="308" width="1" height="5" fill="#fff"/>
<rect x="75" y="308" width="1" height="5" fill="#fff"/>
<rect x="78" y="308" width="1" height="5" fill="#fff"/>
<rect x="80" y="308" width="1" height="5" fill="#fff"/>
<rect x="83" y="308" width="1" height="5" fill="#fff"/>
<rect x="85" y="308" width="1" height="5" fill="#fff"/>
<rect x="88" y="308" width="1" height="5" fill="#fff"/>
<rect x="91" y="308" width="1" height="5" fill="#fff"/>
<rect x="93" y="308" width="1" height="5" fill="#fff"/>
<rect x="96" y="308" width="1" height="5" fill="#fff"/>
<rect x="99" y="308" width="1" height="5" fill="#fff"/>
<rect x="101" y="308" width="1" height="5" fill="#fff"/>
<rect x="104" y="308" width="1" height="5" fill="#fff"/>
<rect x="107" y="308" width="1" height="5" fill="#fff"/>
<rect x="109" y="308" width="1" height="5" fill="#fff"/>
<rect x="112" y="308" width="1" height="5" fill="#fff"/>
<rect x="115" y="308" width="1" height="5" fill="#fff"/>
<rect x="117" y="308" width="1" height="5" fill="#fff"/>
<rect x="120" y="308" width="1" height="5" fill="#fff"/>
<rect x="123" y="308" width="1" height="5" fill="#fff"/>
<rect x="125" y="308" width="1" height="5" fill="#fff"/>
<rect x="128" y="308" width="1" height="5" fill="#fff"/>
<rect x="130" y="308" width="1" height="5" fill="#fff"/>
<rect x="133" y="308" width="1" height="5" fill="#fff"/>
<rect x="136" y="308" width="1" height="5" fill="#fff"/>
<rect x="138" y="308" width="1" height="5" fill="#fff"/>
<rect x="141" y="308" width="1" height="5" fill="#fff"/>
<rect x="144" y="308" width="1" height="5" fill="#fff"/>
<rect x="146" y="308" width="1" height="5" fill="#fff"/>
<rect x="149" y="308" width="1" height="5" fill="#fff"/>
<rect x="152" y="308" width="1" height="5" fill="#fff"/>
<rect x="214" y="307" width="86" height="11" fill="#000"/>
<rect x="216" y="308" width="1" height="5" fill="#fff"/>
<rect x="219" y="308" width="1" height="5" fill="#fff"/>
<rect x="222" y="308" width="1" height="5" fill="#fff"/>
<rect x="224" y="308" width="1" height="5" fill="#fff"/>
<rect x="227" y="308" width="1" height="5" fill="#fff"/>
<rect x="230" y="308" width="1" height="5" fill="#fff"/>
<rect x="232" y="308" width="1" height="5" fill="#fff"/>
<rect x="235" y="308" width="1" height="5" fill="#fff"/>
<rect x="238" y="308" width="1" height="5" fill="#fff"/>
<rect x="240" y="308" width="1" height="5" fill="#fff"/>
<rect x="243" y="308" width="1" height="5" fill="#fff"/>
<rect x="246" y="308" width="1" height="5" fill="#fff"/>
<rect x="248" y="308" width="1" height="5" fill="#fff"/>
<rect x="251" y="308" width="1" height="5" fill="#fff"/>
<rect x="254" y="308" width="1" height="5" fill="#fff"/>
<rect x="256" y="308" width="1" height="5" fill="#fff"/>
<rect x="259" y="308" width="1" height="5" fill="#fff"/>
<rect x="262" y="308" width="1" height="5" fill="#fff"/>
<rect x="264" y="308" width="1" height="5" fill="#fff"/>
<rect x="267" y="308" width="1" height="5" fill="#fff"/>
<rect x="270" y="308" width="1" height="5" fill="#fff"/>
<rect x="272" y="308" width="1" height="5" fill="#fff"/>
<rect x="275" y="308" width="1" height="5" fill="#fff"/>
<rect x="277" y="308" width="1" height="5" fill="#fff"/>
<rect x="280" y="308" width="1" height="5" fill="#fff"/>
<rect x="283" y="308" width="1" height="5" fill="#fff"/>
<rect x="285" y="308" width="1" height="5" fill="#fff"/>
<rect x="288" y="308" width="1" height="5" fill="#fff"/>
<rect x="291" y="308" width="1" height="5" fill="#fff"/>
<rect x="293" y="308" width="1" height="5" fill="#fff"/>
<rect x="296" y="308" width="1" height="5" fill="#fff"/>
<path d="M311.5,315.5 V307.5 H303.5 V315.5 H305.5" fill="none" stroke="#000" stroke-width="1" />
<path d="M313,315.5 H310.5 V313.5 H305.5 V319.5 H313" fill="none" stroke="#000" stroke-width="1" />
<rect x="312" y="305" width="4" height="16" fill="#000"/>
<rect x="316" y="308" width="8" height="1" fill="#000"/>
<rect x="316" y="314" width="8" height="1" fill="#000"/>
<rect x="46.5" y="322.5" width="277" height="15" fill="#fff" stroke="#000" stroke-width="1"/>
<rect x="46" y="325" width="8" height="1" fill="#000"/>
<rect x="46" y="331" width="8" height="1" fill="#000"/>
<rect x="54" y="322" width="3" height="16" fill="#000"/>
<path d="M58.5,332.5 V324.5 H66.5 V332.5 H64.5" fill="none" stroke="#000" stroke-width="1" />
<path d="M57,332.5 H59.5 V330.5 H64.5 V336.5 H57" fill="none" stroke="#000" stroke-width="1" />
<rect x="69" y="324" width="86" height="11" fill="#000"/>
<rect x="72" y="325" width="1" height="5" fill="#fff"/>
<rect x="75" y="325" width="1" height="5" fill="#fff"/>
<rect x="78" y="325" width="1" height="5" fill="#fff"/>
<rect x="80" y="325" width="1" height="5" fill="#fff"/>
<rect x="83" y="325" width="1" height="5" fill="#fff"/>
<rect x="85" y="325" width="1" height="5" fill="#fff"/>
<rect x="88" y="325" width="1" height="5" fill="#fff"/>
<rect x="91" y="325" width="1" height="5" fill="#fff"/>
<rect x="93" y="325" width="1" height="5" fill="#fff"/>
<rect x="96" y="325" width="1" height="5" fill="#fff"/>
<rect x="99" y="325" width="1" height="5" fill="#fff"/>
<rect x="101" y="325" width="1" height="5" fill="#fff"/>
<rect x="104" y="325" width="1" height="5" fill="#fff"/>
<rect x="107" y="325" width="1" height="5" fill="#fff"/>
<rect x="109" y="325" width="1" height="5" fill="#fff"/>
<rect x="112" y="325" width="1" height="5" fill="#fff"/>
<rect x="115" y="325" width="1" height="5" fill="#fff"/>
<rect x="117" y="325" width="1" height="5" fill="#fff"/>
<rect x="120" y="325" width="1" height="5" fill="#fff"/>
<rect x="123" y="325" width="1" height="5" fill="#fff"/>
<rect x="125" y="325" width="1" height="5" fill="#fff"/>
<rect x="128" y="325" width="1" height="5" fill="#fff"/>
<rect x="130" y="325" width="1" height="5" fill="#fff"/>
<rect x="133" y="325" width="1" height="5" fill="#fff"/>
<rect x="136" y="325" width="1" height="5" fill="#fff"/>
<rect x="138" y="325" width="1" height="5" fill="#fff"/>
<rect x="141" y="325" width="1" height="5" fill="#fff"/>
<rect x="144" y="325" width="1" height="5" fill="#fff"/>
<rect x="146" y="325" width="1" height="5" fill="#fff"/>
<rect x="149" y="325" width="1" height="5" fill="#fff"/>
<rect x="152" y="325" width="1" height="5" fill="#fff"/>
<rect x="214" y="324" width="86" height="11" fill="#000"/>
<rect x="216" y="325" width="1" height="5" fill="#fff"/>
<rect x="219" y="325" width="1" height="5" fill="#fff"/>
<rect x="222" y="325" width="1" height="5" fill="#fff"/>
<rect x="224" y="325" width="1" height="5" fill="#fff"/>
<rect x="227" y="325" width="1" height="5" fill="#fff"/>
<rect x="230" y="325" width="1" height="5" fill="#fff"/>
<rect x="232" y="325" width="1" height="5" fill="#fff"/>
<rect x="235" y="325" width="1" height="5" fill="#fff"/>
<rect x="238" y="325" width="1" height="5" fill="#fff"/>
<rect x="240" y="325" width="1" height="5" fill="#fff"/>
<rect x="243" y="325" width="1" height="5" fill="#fff"/>
<rect x="246" y="325" width="1" height="5" fill="#fff"/>
<rect x="248" y="325" width="1" height="5" fill="#fff"/>
<rect x="251" y="325" width="1" height="5" fill="#fff"/>
<rect x="254" y="325" width="1" height="5" fill="#fff"/>
<rect x="256" y="325" width="1" height="5" fill="#fff"/>
<rect x="259" y="325" width="1" height="5" fill="#fff"/>
<rect x="262" y="325" width="1" height="5" fill="#fff"/>
<rect x="264" y="325" width="1" height="5" fill="#fff"/>
<rect x="267" y="325" width="1" height="5" fill="#fff"/>
<rect x="270" y="325" width="1" height="5" fill="#fff"/>
<rect x="272" y="325" width="1" height="5" fill="#fff"/>
<rect x="275" y="325" width="1" height="5" fill="#fff"/>
<rect x="277" y="325" width="1" height="5" fill="#fff"/>
<rect x="280" y="325" width="1" height="5" fill="#fff"/>
<rect x="283" y="325" width="1" height="5" fill="#fff"/>
<rect x="285" y="325" width="1" height="5" fill="#fff"/>
<rect x="288" y="325" width="1" height="5" fill="#fff"/>
<rect x="291" y="325" width="1" height="5" fill="#fff"/>
<rect x="293" y="325" width="1" height="5" fill="#fff"/>
<rect x="296" y="325" width="1" height="5" fill="#fff"/>
<path d="M311.5,332.5 V324.5 H303.5 V332.5 H305.5" fill="none" stroke="#000" stroke-width="1" />
<path d="M313,332.5 H310.5 V330.5 H305.5 V336.5 H313" fill="none" stroke="#000" stroke-width="1" />
<rect x="312" y="322" width="4" height="16" fill="#000"/>
<rect x="316" y="325" width="8" height="1" fill="#000"/>
<rect x="316" y="331" width="8" height="1" fill="#000"/>
<rect x="46.5" y="339.5" width="277" height="15" fill="#fff" stroke="#000" stroke-width="1"/>
<rect x="46" y="342" width="8" height="1" fill="#000"/>
<rect x="46" y="348" width="8" height="1" fill="#000"/>
<rect x="54" y="339" width="3" height="16" fill="#000"/>
<path d="M58.5,349.5 V341.5 H66.5 V349.5 H64.5" fill="none" stroke="#000" stroke-width="1" />
<path d="M57,349.5 H59.5 V347.5 H64.5 V353.5 H57" fill="none" stroke="#000" stroke-width="1" />
<rect x="69" y="341" width="86" height="11" fill="#000"/>
<rect x="72" y="342" width="1" height="5" fill="#fff"/>
<rect x="75" y="342" width="1" height="5" fill="#fff"/>
<rect x="78" y="342" width="1" height="5" fill="#fff"/>
<rect x="80" y="342" width="1" height="5" fill="#fff"/>
<rect x="83" y="342" width="1" height="5" fill="#fff"/>
<rect x="85" y="342" width="1" height="5" fill="#fff"/>
<rect x="88" y="342" width="1" height="5" fill="#fff"/>
<rect x="91" y="342" width="1" height="5" fill="#fff"/>
<rect x="93" y="342" width="1" height="5" fill="#fff"/>
<rect x="96" y="342" width="1" height="5" fill="#fff"/>
<rect x="99" y="342" width="1" height="5" fill="#fff"/>
<rect x="101" y="342" width="1" height="5" fill="#fff"/>
<rect x="104" y="342" width="1" height="5" fill="#fff"/>
<rect x="107" y="342" width="1" height="5" fill="#fff"/>
<rect x="109" y="342" width="1" height="5" fill="#fff"/>
<rect x="112" y="342" width="1" height="5" fill="#fff"/>
<rect x="115" y="342" width="1" height="5" fill="#fff"/>
<rect x="117" y="342" width="1" height="5" fill="#fff"/>
<rect x="120" y="342" width="1" height="5" fill="#fff"/>
<rect x="123" y="342" width="1" height="5" fill="#fff"/>
<rect x="125" y="342" width="1" height="5" fill="#fff"/>
<rect x="128" y="342" width="1" height="5" fill="#fff"/>
<rect x="130" y="342" width="1" height="5" fill="#fff"/>
<rect x="133" y="342" width="1" height="5" fill="#fff"/>
<rect x="136" y="342" width="1" height="5" fill="#fff"/>
<rect x="138" y="342" width="1" height="5" fill="#fff"/>
<rect x="141" y="342" width="1" height="5" fill="#fff"/>
<rect x="144" y="342" width="1" height="5" fill="#fff"/>
<rect x="146" y="342" width="1" height="5" fill="#fff"/>
<rect x="149" y="342" width="1" height="5" fill="#fff"/>
<rect x="152" y="342" width="1" height="5" fill="#fff"/>
<rect x="214" y="341" width="86" height="11" fill="#000"/>
<rect x="216" y="342" width="1" height="5" fill="#fff"/>
<rect x="219" y="342" width="1" height="5" fill="#fff"/>
<rect x="222" y="342" width="1" height="5" fill="#fff"/>
<rect x="224" y="342" width="1" height="5" fill="#fff"/>
<rect x="227" y="342" width="1" height="5" fill="#fff"/>
<rect x="230" y="342" width="1" height="5" fill="#fff"/>
<rect x="232" y="342" width="1" height="5" fill="#fff"/>
<rect x="235" y="342" width="1" height="5" fill="#fff"/>
<rect x="238" y="342" width="1" height="5" fill="#fff"/>
<rect x="240" y="342" width="1" height="5" fill="#fff"/>
<rect x="243" y="342" width="1" height="5" fill="#fff"/>
<rect x="246" y="342" width="1" height="5" fill="#fff"/>
<rect x="248" y="342" width="1" height="5" fill="#fff"/>
<rect x="251" y="342" width="1" height="5" fill="#fff"/>
<rect x="254" y="342" width="1" height="5" fill="#fff"/>
<rect x="256" y="342" width="1" height="5" fill="#fff"/>
<rect x="259" y="342" width="1" height="5" fill="#fff"/>
<rect x="262" y="342" width="1" height="5" fill="#fff"/>
<rect x="264" y="342" width="1" height="5" fill="#fff"/>
<rect x="267" y="342" width="1" height="5" fill="#fff"/>
<rect x="270" y="342" width="1" height="5" fill="#fff"/>
<rect x="272" y="342" width="1" height="5" fill="#fff"/>
<rect x="275" y="342" width="1" height="5" fill="#fff"/>
<rect x="277" y="342" width="1" height="5" fill="#fff"/>
<rect x="280" y="342" width="1" height="5" fill="#fff"/>
<rect x="283" y="342" width="1" height="5" fill="#fff"/>
<rect x="285" y="342" width="1" height="5" fill="#fff"/>
<rect x="288" y="342" width="1" height="5" fill="#fff"/>
<rect x="291" y="342" width="1" height="5" fill="#fff"/>
<rect x="293" y="342" width="1" height="5" fill="#fff"/>
<rect x="296" y="342" width="1" height="5" fill="#fff"/>
<path d="M311.5,349.5 V341.5 H303.5 V349.5 H305.5" fill="none" stroke="#000" stroke-width="1" />
<path d="M313,349.5 H310.5 V347.5 H305.5 V353.5 H313" fill="none" stroke="#000" stroke-width="1" />
<rect x="312" y="339" width="4" height="16" fill="#000"/>
<rect x="316" y="342" width="8" height="1" fill="#000"/>
<rect x="316" y="348" width="8" height="1" fill="#000"/>
<rect x="156" y="285.5" width="57" height="70" rx="3" fill="#fff" stroke="#000" stroke-width="2"/>
<rect x="155" y="301.5" width="59" height="3" fill="#000"/>
<rect x="155" y="319" width="59" height="3" fill="#000"/>
<rect x="155" y="336" width="59" height="3" fill="#000"/>
<text transform="matrix(0.7209,0,0,1.0192,160.89,298.37)" font-size="13" letter-spacing="4">BANK 3</text>
<text transform="matrix(0.7147,0,0,1.0556,160.20,316.00)" font-size="13" letter-spacing="4">BANK 2</text>
<text transform="matrix(0.6977,0,0,1.0667,161.32,333.90)" font-size="13" letter-spacing="4">BANK 1</text>
<text transform="matrix(0.7133,0,0,1.0521,160.20,350.97)" font-size="13" letter-spacing="4">BANK 0</text>
<rect x="330.5" y="301.5" width="55" height="23" fill="#fff" stroke="#000" stroke-width="1"/>
<rect x="331" y="304" width="7.5" height="4" fill="#000"/>
<rect x="332.5" y="305" width="4.5" height="1" fill="#fff"/>
<rect x="339" y="304" width="7.5" height="4" fill="#000"/>
<rect x="340.5" y="305" width="4.5" height="1" fill="#fff"/>
<rect x="349" y="304" width="7.5" height="4" fill="#000"/>
<rect x="350.5" y="305" width="4.5" height="1" fill="#fff"/>
<rect x="358" y="304" width="7.5" height="4" fill="#000"/>
<rect x="359.5" y="305" width="4.5" height="1" fill="#fff"/>
<rect x="367" y="304" width="7.5" height="4" fill="#000"/>
<rect x="368.5" y="305" width="4.5" height="1" fill="#fff"/>
<rect x="376" y="304" width="7.5" height="4" fill="#000"/>
<rect x="377.5" y="305" width="4.5" height="1" fill="#fff"/>
<rect x="331" y="309" width="54" height="1" fill="#000"/>
<rect x="331" y="311" width="7" height="2" fill="#000"/>
<rect x="339" y="311" width="7" height="2" fill="#000"/>
<rect x="349" y="311" width="7" height="2" fill="#000"/>
<rect x="358" y="311" width="7" height="2" fill="#000"/>
<rect x="367" y="311" width="7.5" height="2" fill="#000"/>
<rect x="376" y="311" width="8" height="2" fill="#000"/>
<rect x="335.5" y="314.5" width="7" height="7" fill="none" stroke="#000" stroke-width="1"/>
<rect x="344.5" y="314.5" width="7" height="7" fill="none" stroke="#000" stroke-width="1"/>
<rect x="353.5" y="314.5" width="7" height="7" fill="none" stroke="#000" stroke-width="1"/>
<rect x="362.5" y="314.5" width="7" height="7" fill="none" stroke="#000" stroke-width="1"/>
<rect x="373.5" y="314.5" width="7" height="7" fill="none" stroke="#000" stroke-width="1"/>
<rect x="330.5" y="314.5" width="2" height="6" fill="none" stroke="#000" stroke-width="1"/>
<rect x="383.5" y="314.5" width="2" height="6" fill="none" stroke="#000" stroke-width="1"/>
<rect x="330.5" y="329.5" width="55" height="23" fill="#fff" stroke="#000" stroke-width="1"/>
<rect x="333" y="332" width="4" height="5" fill="#000"/>
<rect x="331" y="333" width="8" height="2" fill="#000"/>
<rect x="341" y="332" width="4" height="5" fill="#000"/>
<rect x="339" y="333" width="8" height="2" fill="#000"/>
<rect x="351" y="332" width="4" height="5" fill="#000"/>
<rect x="349" y="333" width="8" height="2" fill="#000"/>
<rect x="360" y="332" width="4" height="5" fill="#000"/>
<rect x="358" y="333" width="8" height="2" fill="#000"/>
<rect x="369" y="332" width="4" height="5" fill="#000"/>
<rect x="367" y="333" width="8" height="2" fill="#000"/>
<rect x="378" y="332" width="4" height="5" fill="#000"/>
<rect x="376" y="333" width="8" height="2" fill="#000"/>
<rect x="331" y="337" width="54" height="1" fill="#000"/>
<rect x="331" y="339" width="15" height="2" fill="#000"/>
<rect x="349" y="339" width="7" height="2" fill="#000"/>
<rect x="358" y="339" width="7" height="2" fill="#000"/>
<rect x="367" y="339" width="7.5" height="2" fill="#000"/>
<rect x="376" y="339" width="8" height="2" fill="#000"/>
<rect x="335.5" y="342.5" width="7" height="7" fill="none" stroke="#000" stroke-width="1"/>
<rect x="344.5" y="342.5" width="7" height="7" fill="none" stroke="#000" stroke-width="1"/>
<rect x="353.5" y="342.5" width="7" height="7" fill="none" stroke="#000" stroke-width="1"/>
<rect x="362.5" y="342.5" width="7" height="7" fill="none" stroke="#000" stroke-width="1"/>
<rect x="373.5" y="342.5" width="7" height="7" fill="none" stroke="#000" stroke-width="1"/>
<rect x="330.5" y="342.5" width="2" height="6" fill="none" stroke="#000" stroke-width="1"/>
<rect x="383.5" y="342.5" width="2" height="6" fill="none" stroke="#000" stroke-width="1"/>
<rect x="401" y="289" width="88" height="41" fill="#000"/>
<rect x="487" y="303" width="2" height="13" fill="#fff"/>
<rect x="425" y="302" width="40" height="14" fill="#fff"/>
<text transform="matrix(0.6816,0,0,1.0595,429.23,312.77)" font-size="13" letter-spacing="4">BIOS</text>
<rect x="613.5" y="273.5" width="77" height="13" fill="#fff" stroke="#000" stroke-width="1"/>
<rect x="615" y="275" width="4" height="4" fill="#000"/>
<rect x="615" y="281" width="4" height="4" fill="#000"/>
<rect x="620.9" y="275" width="4" height="4" fill="#000"/>
<rect x="620.9" y="281" width="4" height="4" fill="#000"/>
<rect x="626.8" y="275" width="4" height="4" fill="#000"/>
<rect x="626.8" y="281" width="4" height="4" fill="#000"/>
<rect x="632.7" y="275" width="4" height="4" fill="#000"/>
<rect x="632.7" y="281" width="4" height="4" fill="#000"/>
<rect x="638.6" y="275" width="4" height="4" fill="#000"/>
<rect x="638.6" y="281" width="4" height="4" fill="#000"/>
<rect x="644.5" y="275" width="4" height="4" fill="#000"/>
<rect x="644.5" y="281" width="4" height="4" fill="#000"/>
<rect x="650.4" y="275" width="4" height="4" fill="#000"/>
<rect x="650.4" y="281" width="4" height="4" fill="#000"/>
<rect x="656.3" y="275" width="4" height="4" fill="#000"/>
<rect x="656.3" y="281" width="4" height="4" fill="#000"/>
<rect x="662.2" y="275" width="4" height="4" fill="#000"/>
<rect x="662.2" y="281" width="4" height="4" fill="#000"/>
<rect x="668.1" y="275" width="4" height="4" fill="#000"/>
<rect x="668.1" y="281" width="4" height="4" fill="#000"/>
<rect x="674" y="275" width="4" height="4" fill="#000"/>
<rect x="674" y="281" width="4" height="4" fill="#000"/>
<rect x="679.9" y="275" width="4" height="4" fill="#000"/>
<rect x="679.9" y="281" width="4" height="4" fill="#000"/>
<rect x="685.8" y="275" width="4" height="4" fill="#000"/>
<rect x="685.8" y="281" width="4" height="4" fill="#000"/>
<rect x="615.5" y="281.5" width="3" height="3" fill="#fff" stroke="#000" stroke-width="1"/>
<rect x="635" y="303" width="32" height="17" rx="2.5" fill="#fff" stroke="#000" stroke-width="2"/>
<text transform="matrix(0.6992,0,0,1.0703,638.66,314.77)" font-size="13" letter-spacing="4">CN6</text>
<rect x="649.5" y="287" width="2" height="4" fill="#000"/>
<path d="M647.5,305 L650.5,290.5 L653.5,305 Z" fill="#fff" shape-rendering="geometricPrecision"/>
<path d="M647.5,303 L650.5,290.5 L653.5,303" fill="none" stroke="#000" stroke-width="2" stroke-linejoin="round" shape-rendering="geometricPrecision"/>
<rect x="425" y="401" width="13" height="119" fill="#000"/>
<rect x="426" y="402" width="11" height="1" fill="#fff"/>
<rect x="436" y="402" width="1" height="117" fill="#fff"/>
<rect x="431" y="402" width="1" height="117" fill="#fff"/>
<rect x="426" y="407" width="10" height="1" fill="#fff"/>
<rect x="426" y="413" width="10" height="1" fill="#fff"/>
<rect x="426" y="419" width="10" height="1" fill="#fff"/>
<rect x="426" y="425" width="10" height="1" fill="#fff"/>
<rect x="426" y="431" width="10" height="1" fill="#fff"/>
<rect x="426" y="437" width="10" height="1" fill="#fff"/>
<rect x="426" y="443" width="10" height="1" fill="#fff"/>
<rect x="426" y="448" width="10" height="1" fill="#fff"/>
<rect x="426" y="454" width="10" height="1" fill="#fff"/>
<rect x="426" y="460" width="10" height="1" fill="#fff"/>
<rect x="426" y="466" width="10" height="1" fill="#fff"/>
<rect x="426" y="472" width="10" height="1" fill="#fff"/>
<rect x="426" y="478" width="10" height="1" fill="#fff"/>
<rect x="426" y="484" width="10" height="1" fill="#fff"/>
<rect x="426" y="490" width="10" height="1" fill="#fff"/>
<rect x="426" y="496" width="10" height="1" fill="#fff"/>
<rect x="426" y="502" width="10" height="1" fill="#fff"/>
<rect x="426" y="508" width="10" height="1" fill="#fff"/>
<rect x="426" y="514" width="10" height="1" fill="#fff"/>
<rect x="426.5" y="403.5" width="4" height="3" fill="#fff" stroke="#000" stroke-width="1"/>
<rect x="454" y="454" width="33" height="17" rx="2.5" fill="#fff" stroke="#000" stroke-width="2"/>
<text transform="matrix(0.7420,0,0,1.0703,456.34,466.77)" font-size="13" letter-spacing="4">CN7</text>
<rect x="438" y="461.5" width="4" height="2" fill="#000"/>
<path d="M456,458.5 L441.5,462.5 L456,466 Z" fill="#fff" shape-rendering="geometricPrecision"/>
<path d="M454,458.5 L441.5,462.5 L454,466" fill="none" stroke="#000" stroke-width="2" stroke-linejoin="round" shape-rendering="geometricPrecision"/>
<rect x="427" y="560" width="12" height="101" fill="#000"/>
<rect x="432" y="561" width="1" height="99" fill="#fff"/>
<rect x="428" y="566" width="10" height="1" fill="#fff"/>
<rect x="428" y="572" width="10" height="1" fill="#fff"/>
<rect x="428" y="578" width="10" height="1" fill="#fff"/>
<rect x="428" y="584" width="10" height="1" fill="#fff"/>
<rect x="428" y="590" width="10" height="1" fill="#fff"/>
<rect x="428" y="596" width="10" height="1" fill="#fff"/>
<rect x="428" y="602" width="10" height="1" fill="#fff"/>
<rect x="428" y="608" width="10" height="1" fill="#fff"/>
<rect x="428" y="613" width="10" height="1" fill="#fff"/>
<rect x="428" y="619" width="10" height="1" fill="#fff"/>
<rect x="428" y="625" width="10" height="1" fill="#fff"/>
<rect x="428" y="631" width="10" height="1" fill="#fff"/>
<rect x="428" y="637" width="10" height="1" fill="#fff"/>
<rect x="428" y="643" width="10" height="1" fill="#fff"/>
<rect x="428" y="649" width="10" height="1" fill="#fff"/>
<rect x="428" y="655" width="10" height="1" fill="#fff"/>
<rect x="429.5" y="562.5" width="1" height="2" fill="#fff" stroke="#000" stroke-width="1"/>
<rect x="455" y="604" width="34" height="17" rx="2.5" fill="#fff" stroke="#000" stroke-width="2"/>
<text transform="matrix(0.7331,0,0,1.0486,459.64,616.87)" font-size="13" letter-spacing="4">CN8</text>
<rect x="439" y="611.5" width="4" height="2" fill="#000"/>
<path d="M457,608.5 L442.5,612.5 L457,616 Z" fill="#fff" shape-rendering="geometricPrecision"/>
<path d="M455,608.5 L442.5,612.5 L455,616" fill="none" stroke="#000" stroke-width="2" stroke-linejoin="round" shape-rendering="geometricPrecision"/>
<rect x="19.5" y="291.5" width="12" height="60" fill="#fff" stroke="#000" stroke-width="1"/>
<rect x="21" y="293" width="4" height="5" fill="#000"/>
<rect x="26" y="293" width="4" height="5" fill="#000"/>
<rect x="21" y="299" width="4" height="5" fill="#000"/>
<rect x="26" y="299" width="4" height="5" fill="#000"/>
<rect x="21" y="305" width="4" height="5" fill="#000"/>
<rect x="26" y="305" width="4" height="5" fill="#000"/>
<rect x="21" y="311" width="4" height="5" fill="#000"/>
<rect x="26" y="311" width="4" height="5" fill="#000"/>
<rect x="21" y="317" width="4" height="5" fill="#000"/>
<rect x="26" y="317" width="4" height="5" fill="#000"/>
<rect x="21" y="323" width="4" height="5" fill="#000"/>
<rect x="26" y="323" width="4" height="5" fill="#000"/>
<rect x="21" y="329" width="4" height="5" fill="#000"/>
<rect x="26" y="329" width="4" height="5" fill="#000"/>
<rect x="21" y="335" width="4" height="5" fill="#000"/>
<rect x="26" y="335" width="4" height="5" fill="#000"/>
<rect x="21" y="341" width="4" height="5" fill="#000"/>
<rect x="26" y="341" width="4" height="5" fill="#000"/>
<rect x="21" y="347" width="4" height="5" fill="#000"/>
<rect x="26" y="347" width="4" height="5" fill="#000"/>
<rect x="21.5" y="293.5" width="3" height="4" fill="#fff" stroke="#000" stroke-width="1"/>
<rect x="34" y="359" width="33" height="17" rx="2.5" fill="#fff" stroke="#000" stroke-width="2"/>
<text transform="matrix(0.7389,0,0,0.9838,36.54,370.78)" font-size="13" letter-spacing="4">CN9</text>
<path d="M37,363 L27,352 L42,361.5 Z" fill="#fff" shape-rendering="geometricPrecision"/>
<path d="M35,361 L27,352 L40,359.5" fill="none" stroke="#000" stroke-width="2" stroke-linejoin="round" shape-rendering="geometricPrecision"/>
<rect x="780" y="284" width="7" height="67" fill="#000"/>
<rect x="778.5" y="287.5" width="18" height="5" fill="#fff" stroke="#000" stroke-width="1"/>
<rect x="780" y="287" width="7" height="6" fill="#000"/>
<rect x="780.5" y="295.5" width="22" height="42" rx="0" fill="#fff" stroke="#000" stroke-width="1" shape-rendering="crispEdges"/>
<rect x="752" y="294" width="35" height="45" fill="#000"/>
<rect x="778.5" y="341.5" width="17" height="5" fill="#fff" stroke="#000" stroke-width="1"/>
<rect x="780" y="341" width="7" height="6" fill="#000"/>
<rect x="760" y="309" width="34" height="17" rx="2.5" fill="#fff" stroke="#000" stroke-width="2"/>
<rect x="758" y="308" width="6" height="19" fill="#000"/>
<text transform="matrix(0.7209,0,0,1.0378,764.05,320.57)" font-size="13" letter-spacing="4">CN5</text>
<rect x="780" y="352" width="6" height="112" fill="#000"/>
<rect x="776.5" y="354.5" width="18" height="5" fill="#fff" stroke="#000" stroke-width="1"/>
<rect x="780" y="354" width="6" height="6" fill="#000"/>
<rect x="780.5" y="364.5" width="19" height="88" rx="0" fill="#fff" stroke="#000" stroke-width="1" shape-rendering="crispEdges"/>
<rect x="756" y="363" width="30" height="91" fill="#000"/>
<rect x="776.5" y="457.5" width="17" height="5" fill="#fff" stroke="#000" stroke-width="1"/>
<rect x="780" y="457" width="6" height="6" fill="#000"/>
<rect x="784" y="353" width="1" height="111" fill="#fff"/>
<rect x="760" y="400" width="34" height="16" rx="2.5" fill="#fff" stroke="#000" stroke-width="2"/>
<rect x="758" y="399" width="6" height="18" fill="#000"/>
<text transform="matrix(0.7333,0,0,1.0703,764.54,411.87)" font-size="13" letter-spacing="4">CN4</text>
<rect x="781" y="466" width="6" height="67" fill="#000"/>
<rect x="778.5" y="469.5" width="18" height="5" fill="#fff" stroke="#000" stroke-width="1"/>
<rect x="781" y="469" width="6" height="6" fill="#000"/>
<rect x="780.5" y="477.5" width="23" height="42" rx="3" fill="#fff" stroke="#000" stroke-width="1" shape-rendering="geometricPrecision"/>
<rect x="753" y="476" width="34" height="45" fill="#000"/>
<rect x="778.5" y="523.5" width="17" height="5" fill="#fff" stroke="#000" stroke-width="1"/>
<rect x="781" y="523" width="6" height="6" fill="#000"/>
<rect x="760" y="491" width="34" height="17" rx="2.5" fill="#fff" stroke="#000" stroke-width="2"/>
<rect x="758" y="490" width="6" height="19" fill="#000"/>
<text transform="matrix(0.7389,0,0,0.9838,765.34,501.78)" font-size="13" letter-spacing="4">CN3</text>
<rect x="781" y="534" width="6" height="68" fill="#000"/>
<rect x="778.5" y="537.5" width="18" height="5" fill="#fff" stroke="#000" stroke-width="1"/>
<rect x="781" y="537" width="6" height="6" fill="#000"/>
<rect x="780.5" y="546.5" width="23" height="42" rx="0" fill="#fff" stroke="#000" stroke-width="1" shape-rendering="crispEdges"/>
<rect x="753" y="545" width="34" height="45" fill="#000"/>
<rect x="778.5" y="592.5" width="17" height="5" fill="#fff" stroke="#000" stroke-width="1"/>
<rect x="781" y="592" width="6" height="6" fill="#000"/>
<rect x="760" y="560" width="34" height="16" rx="2.5" fill="#fff" stroke="#000" stroke-width="2"/>
<rect x="758" y="559" width="6" height="18" fill="#000"/>
<text transform="matrix(0.7389,0,0,0.9838,765.34,570.78)" font-size="13" letter-spacing="4">CN2</text>
<rect x="786" y="600" width="1" height="127" fill="#000"/>
<rect x="781" y="604" width="6" height="41" fill="#000"/>
<rect x="747.5" y="605.5" width="33" height="39" fill="#fff" stroke="#000" stroke-width="1"/>
<rect x="751.5" y="617" width="31" height="16.5" rx="2.5" fill="#fff" stroke="#000" stroke-width="2.6"/>
<rect x="781" y="604" width="6" height="41" fill="#000"/>
<text transform="matrix(0.7084,0,0,1.0595,754.56,628.57)" font-size="13" letter-spacing="4">CN1</text>
<path d="M787,650 H783 V653 H780 V657 H756 V664 H753 V688 H756 V695 H780 V699 H783 V701 H787 Z" fill="#000" stroke="#000" stroke-width="0" />
<rect x="749.5" y="666.5" width="4" height="7" fill="#fff" stroke="#000" stroke-width="1"/>
<rect x="749.5" y="677.5" width="4" height="7" fill="#fff" stroke="#000" stroke-width="1"/>
<rect x="754" y="674" width="2" height="4" fill="#fff"/>
<rect x="527" y="684" width="7" height="13.5" fill="#000"/>
<rect x="528" y="685" width="5" height="1" fill="#fff"/>
<rect x="528" y="690.5" width="5" height="1" fill="#fff"/>
<rect x="528" y="695.5" width="5" height="1" fill="#fff"/>
<rect x="535" y="684" width="7" height="13.5" fill="#000"/>
<rect x="536" y="685" width="5" height="1" fill="#fff"/>
<rect x="536" y="690.5" width="5" height="1" fill="#fff"/>
<rect x="536" y="695.5" width="5" height="1" fill="#fff"/>
<rect x="536" y="685" width="1" height="11" fill="#fff"/>
<rect x="544" y="684" width="7" height="13.5" fill="#000"/>
<rect x="545" y="685" width="5" height="1" fill="#fff"/>
<rect x="545" y="690.5" width="5" height="1" fill="#fff"/>
<rect x="545" y="695.5" width="5" height="1" fill="#fff"/>
<rect x="552" y="684" width="7" height="13.5" fill="#000"/>
<rect x="553" y="685" width="5" height="1" fill="#fff"/>
<rect x="553" y="690.5" width="5" height="1" fill="#fff"/>
<rect x="553" y="695.5" width="5" height="1" fill="#fff"/>
<rect x="560" y="684" width="7" height="13.5" fill="#000"/>
<rect x="561" y="685" width="5" height="1" fill="#fff"/>
<rect x="561" y="690.5" width="5" height="1" fill="#fff"/>
<rect x="561" y="695.5" width="5" height="1" fill="#fff"/>
<rect x="569" y="684" width="7" height="13.5" fill="#000"/>
<rect x="570" y="685" width="5" height="1" fill="#fff"/>
<rect x="570" y="690.5" width="5" height="1" fill="#fff"/>
<rect x="570" y="695.5" width="5" height="1" fill="#fff"/>
<rect x="577" y="684" width="7" height="13.5" fill="#000"/>
<rect x="578" y="685" width="5" height="1" fill="#fff"/>
<rect x="578" y="690.5" width="5" height="1" fill="#fff"/>
<rect x="578" y="695.5" width="5" height="1" fill="#fff"/>
<rect x="585" y="684" width="7" height="13.5" fill="#000"/>
<rect x="586" y="685" width="5" height="1" fill="#fff"/>
<rect x="586" y="690.5" width="5" height="1" fill="#fff"/>
<rect x="586" y="695.5" width="5" height="1" fill="#fff"/>
<rect x="593" y="684" width="7" height="13.5" fill="#000"/>
<rect x="594" y="685" width="5" height="1" fill="#fff"/>
<rect x="594" y="690.5" width="5" height="1" fill="#fff"/>
<rect x="594" y="695.5" width="5" height="1" fill="#fff"/>
<rect x="601.5" y="684" width="7" height="13.5" fill="#000"/>
<rect x="602.5" y="685" width="5" height="1" fill="#fff"/>
<rect x="602.5" y="690.5" width="5" height="1" fill="#fff"/>
<rect x="602.5" y="695.5" width="5" height="1" fill="#fff"/>
<rect x="602.5" y="685" width="1" height="11" fill="#fff"/>
<rect x="610" y="684" width="7" height="13.5" fill="#000"/>
<rect x="611" y="685" width="5" height="1" fill="#fff"/>
<rect x="611" y="690.5" width="5" height="1" fill="#fff"/>
<rect x="611" y="695.5" width="5" height="1" fill="#fff"/>
<rect x="618" y="684" width="7" height="13.5" fill="#000"/>
<rect x="619" y="685" width="5" height="1" fill="#fff"/>
<rect x="619" y="690.5" width="5" height="1" fill="#fff"/>
<rect x="619" y="695.5" width="5" height="1" fill="#fff"/>
<rect x="626" y="684" width="7" height="13.5" fill="#000"/>
<rect x="627" y="685" width="5" height="1" fill="#fff"/>
<rect x="627" y="690.5" width="5" height="1" fill="#fff"/>
<rect x="627" y="695.5" width="5" height="1" fill="#fff"/>
<rect x="627" y="685" width="1" height="11" fill="#fff"/>
<rect x="478" y="683" width="34" height="16" rx="2.5" fill="#fff" stroke="#000" stroke-width="2"/>
<text transform="matrix(0.8119,0,0,0.9534,483.60,695.38)" font-size="13" letter-spacing="2.5">J13</text>
<rect x="507" y="660" width="33" height="17" rx="2.5" fill="#fff" stroke="#000" stroke-width="2"/>
<text transform="matrix(0.7876,0,0,1.0521,511.40,672.87)" font-size="13" letter-spacing="2.5">J11</text>
<rect x="536" y="643" width="32" height="15" rx="2.5" fill="#fff" stroke="#000" stroke-width="2"/>
<text transform="matrix(0.8199,0,0,1.0411,540.50,654.87)" font-size="13" letter-spacing="2.5">J10</text>
<rect x="568" y="658" width="24" height="16" rx="2.5" fill="#fff" stroke="#000" stroke-width="2"/>
<text transform="matrix(0.8000,0,0,0.9973,572.60,670.38)" font-size="13" letter-spacing="2.5">J7</text>
<rect x="596" y="660" width="21" height="16" rx="2.5" fill="#fff" stroke="#000" stroke-width="2"/>
<text transform="matrix(0.7935,0,0,0.9863,598.90,671.88)" font-size="13" letter-spacing="2.5">J6</text>
<rect x="622" y="660" width="22" height="17" rx="2.5" fill="#fff" stroke="#000" stroke-width="2"/>
<text transform="matrix(0.8325,0,0,0.9315,624.39,672.48)" font-size="13" letter-spacing="2.5">J3</text>
<rect x="648.5" y="683" width="23" height="16" rx="2.5" fill="#fff" stroke="#000" stroke-width="2"/>
<text transform="matrix(0.7935,0,0,0.9973,652.70,694.88)" font-size="13" letter-spacing="2.5">J1</text>
<rect x="499" y="705" width="32" height="17" rx="2.5" fill="#fff" stroke="#000" stroke-width="2"/>
<text transform="matrix(0.7800,0,0,1.0411,504.70,717.07)" font-size="13" letter-spacing="2.5">J12</text>
<rect x="535.5" y="706.5" width="22" height="16" rx="2.5" fill="#fff" stroke="#000" stroke-width="2"/>
<text transform="matrix(0.8325,0,0,1.0301,537.59,717.57)" font-size="13" letter-spacing="2.5">J9</text>
<rect x="561" y="715.5" width="22" height="16" rx="2.5" fill="#fff" stroke="#000" stroke-width="2"/>
<text transform="matrix(0.8325,0,0,1.0270,564.39,726.57)" font-size="13" letter-spacing="2.5">J8</text>
<rect x="586.5" y="715.5" width="22" height="16" rx="2.5" fill="#fff" stroke="#000" stroke-width="2"/>
<text transform="matrix(0.8000,0,0,0.9863,589.80,726.58)" font-size="13" letter-spacing="2.5">J5</text>
<rect x="612.5" y="714.5" width="22" height="16" rx="2.5" fill="#fff" stroke="#000" stroke-width="2"/>
<text transform="matrix(0.7872,0,0,0.9863,615.50,726.58)" font-size="13" letter-spacing="2.5">J4</text>
<rect x="636.5" y="706.5" width="22" height="16" rx="2.5" fill="#fff" stroke="#000" stroke-width="2"/>
<text transform="matrix(0.8325,0,0,0.9753,640.59,717.58)" font-size="13" letter-spacing="2.5">J2</text>
<rect x="520" y="690" width="7" height="2" fill="#000"/>
<path d="M510,688 L520.5,691 L510,694 Z" fill="#fff" shape-rendering="geometricPrecision"/>
<path d="M512,688 L520.5,691 L512,694" fill="none" stroke="#000" stroke-width="2" stroke-linejoin="round" shape-rendering="geometricPrecision"/>
<rect x="633" y="690" width="7" height="2" fill="#000"/>
<path d="M650.5,688 L639.5,691 L650.5,695 Z" fill="#fff" shape-rendering="geometricPrecision"/>
<path d="M648.5,688 L639.5,691 L648.5,695" fill="none" stroke="#000" stroke-width="2" stroke-linejoin="round" shape-rendering="geometricPrecision"/>
<path d="M535,674.5 L547.5,684.5 L539,671.5 Z" fill="#fff" shape-rendering="geometricPrecision"/>
<path d="M537,676.5 L547.5,684.5 L541,673.5" fill="none" stroke="#000" stroke-width="2" stroke-linejoin="round" shape-rendering="geometricPrecision"/>
<path d="M549.5,656 L554,684.5 L556,656 Z" fill="#fff" shape-rendering="geometricPrecision"/>
<path d="M549.5,658 L554,684.5 L556,658" fill="none" stroke="#000" stroke-width="2" stroke-linejoin="round" shape-rendering="geometricPrecision"/>
<path d="M576.5,672 L580.5,684.5 L583.5,672 Z" fill="#fff" shape-rendering="geometricPrecision"/>
<path d="M576.5,674 L580.5,684.5 L583.5,674" fill="none" stroke="#000" stroke-width="2" stroke-linejoin="round" shape-rendering="geometricPrecision"/>
<path d="M597,671 L588,684.5 L600.5,674 Z" fill="#fff" shape-rendering="geometricPrecision"/>
<path d="M595,673 L588,684.5 L598.5,676" fill="none" stroke="#000" stroke-width="2" stroke-linejoin="round" shape-rendering="geometricPrecision"/>
<path d="M623,672 L613,684.5 L626.5,675 Z" fill="#fff" shape-rendering="geometricPrecision"/>
<path d="M621,674 L613,684.5 L624.5,677" fill="none" stroke="#000" stroke-width="2" stroke-linejoin="round" shape-rendering="geometricPrecision"/>
<path d="M526,707 L538.5,697 L529,710 Z" fill="#fff" shape-rendering="geometricPrecision"/>
<path d="M528,705 L538.5,697 L531,708" fill="none" stroke="#000" stroke-width="2" stroke-linejoin="round" shape-rendering="geometricPrecision"/>
<path d="M551.5,708.5 L563.5,697 L555.5,711 Z" fill="#fff" shape-rendering="geometricPrecision"/>
<path d="M553.5,706.5 L563.5,697 L557.5,709" fill="none" stroke="#000" stroke-width="2" stroke-linejoin="round" shape-rendering="geometricPrecision"/>
<path d="M568,717.5 L571,697 L575,717.5 Z" fill="#fff" shape-rendering="geometricPrecision"/>
<path d="M568,715.5 L571,697 L575,715.5" fill="none" stroke="#000" stroke-width="2" stroke-linejoin="round" shape-rendering="geometricPrecision"/>
<path d="M594,717.5 L596.5,697 L601,717.5 Z" fill="#fff" shape-rendering="geometricPrecision"/>
<path d="M594,715.5 L596.5,697 L601,715.5" fill="none" stroke="#000" stroke-width="2" stroke-linejoin="round" shape-rendering="geometricPrecision"/>
<path d="M614.5,720 L604,697 L617.5,716.5 Z" fill="#fff" shape-rendering="geometricPrecision"/>
<path d="M612.5,718 L604,697 L615.5,714.5" fill="none" stroke="#000" stroke-width="2" stroke-linejoin="round" shape-rendering="geometricPrecision"/>
<path d="M638.5,712 L621.5,697 L642,708.5 Z" fill="#fff" shape-rendering="geometricPrecision"/>
<path d="M636.5,710 L621.5,697 L640,706.5" fill="none" stroke="#000" stroke-width="2" stroke-linejoin="round" shape-rendering="geometricPrecision"/>
</svg>
</body></html>
